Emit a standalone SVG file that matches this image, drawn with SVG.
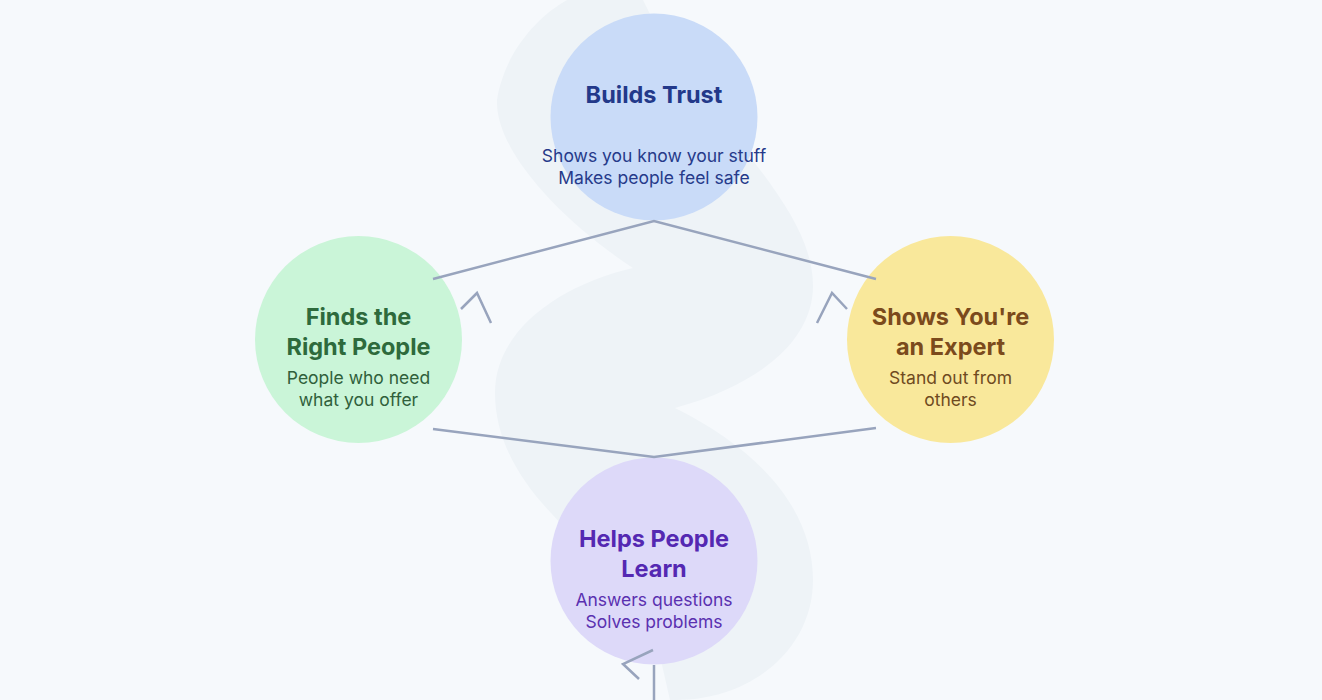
<svg xmlns="http://www.w3.org/2000/svg" width="1322" height="700" viewBox="0 0 1322 700">
<style>
.title{font-family:Inter,"Liberation Sans",sans-serif;font-weight:700;font-size:23.5px;text-anchor:middle}
.sub{font-family:Inter,"Liberation Sans",sans-serif;font-weight:400;font-size:17.5px;text-anchor:middle}
.conn{fill:none;stroke:#98a4bd;stroke-width:2.5;stroke-linecap:butt;stroke-linejoin:miter}
</style>
<rect x="0" y="0" width="1322" height="700" fill="#f6f9fc"/>
<path id="swoosh" fill="#eef3f7" d="M 567 0 C 540 15, 505 50, 497 100 C 495 150, 560 220, 633 268 C 560 285, 495 330, 495 393 C 495 440, 520 480, 551 513 C 600 565, 640 620, 662 665 L 670 700 L 677 700 C 750 700, 813 650, 813 580 C 813 510, 760 450, 675 408 C 760 385, 813 340, 813 286 C 813 200, 700 120, 643 0 Z"/>
<g id="builds-trust">
<circle cx="654" cy="117" r="103.5" fill="#c9dbf8"/>
<text class="title" x="654" y="102.5" fill="#23398a">Builds Trust</text>
<text class="sub" x="654" y="162" fill="#263a8a">Shows you know your stuff</text>
<text class="sub" x="654" y="184" fill="#263a8a">Makes people feel safe</text>
</g>
<g id="finds-right-people">
<circle cx="358.5" cy="339.5" r="103.5" fill="#caf5d8"/>
<text class="title" x="358.5" y="324.5" fill="#2e6a3c">Finds the</text>
<text class="title" x="358.5" y="354.5" fill="#2e6a3c">Right People</text>
<text class="sub" x="358.5" y="384" fill="#30603b">People who need</text>
<text class="sub" x="358.5" y="406" fill="#30603b">what you offer</text>
</g>
<g id="shows-expert">
<circle cx="950.5" cy="339.5" r="103.5" fill="#f9e89b"/>
<text class="title" x="950.5" y="324.5" fill="#7b4a1c">Shows You're</text>
<text class="title" x="950.5" y="354.5" fill="#7b4a1c">an Expert</text>
<text class="sub" x="950.5" y="384" fill="#6f4a1f">Stand out from</text>
<text class="sub" x="950.5" y="406" fill="#6f4a1f">others</text>
</g>
<g id="helps-learn">
<circle cx="654" cy="561" r="103.5" fill="#ddd9f9"/>
<text class="title" x="654" y="546.5" fill="#5428b2">Helps People</text>
<text class="title" x="654" y="576.5" fill="#5428b2">Learn</text>
<text class="sub" x="654" y="606" fill="#5a30b0">Answers questions</text>
<text class="sub" x="654" y="628" fill="#5a30b0">Solves problems</text>
</g>
<g id="connectors" class="conn">
<polyline points="433,279 654,221 876,279"/>
<polyline points="433,429 654,457 876,428"/>
<line x1="654" y1="665" x2="654" y2="700"/>
<polyline points="461,309 477,293 491,323"/>
<polyline points="817,323 832,293 847,309"/>
<polyline points="653,650 623,664 639,679"/>
</g>
</svg>
